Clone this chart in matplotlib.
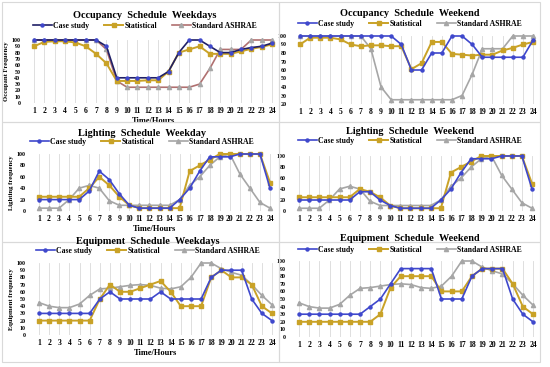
import numpy as np
import matplotlib
matplotlib.use('Agg')
import matplotlib.pyplot as plt
from matplotlib.lines import Line2D
from matplotlib.patches import Rectangle

hours = list(range(1, 25))

# Occupancy weekdays
occ_wd_case = [100, 100, 100, 100, 100, 100, 100, 90, 40, 40, 40, 40, 40, 50, 80, 100, 100, 90, 80, 80, 85, 88, 90, 95]
occ_wd_stat = [90, 97, 98, 98, 96, 90, 78, 63, 35, 35, 35, 36, 36, 50, 80, 85, 90, 78, 78, 78, 82, 86, 89, 93]
occ_wd_ashrae = [100, 100, 100, 100, 100, 100, 100, 85, 35, 25, 25, 25, 25, 25, 25, 25, 30, 55, 85, 85, 85, 100, 100, 100]

# Occupancy weekend
occ_we_case = [100, 100, 100, 100, 100, 100, 100, 100, 100, 100, 90, 60, 60, 80, 80, 100, 100, 90, 75, 75, 75, 75, 75, 95]
occ_we_stat = [90, 98, 98, 98, 96, 90, 88, 89, 89, 88, 88, 61, 68, 93, 93, 79, 78, 77, 78, 78, 83, 86, 90, 93]
occ_we_ashrae = [100, 100, 100, 100, 100, 100, 100, 85, 40, 25, 25, 25, 25, 25, 25, 25, 30, 55, 85, 85, 85, 100, 100, 100]

# Lighting weekday
lit_wd_case = [20, 20, 20, 20, 20, 35, 70, 55, 30, 10, 5, 5, 5, 5, 20, 40, 70, 95, 95, 95, 100, 100, 100, 40]
lit_wd_stat = [25, 25, 25, 25, 25, 40, 60, 45, 25, 10, 5, 5, 5, 5, 5, 70, 80, 90, 100, 100, 100, 100, 100, 50]
lit_wd_ashrae = [5, 5, 5, 20, 40, 45, 40, 18, 10, 10, 10, 10, 10, 10, 20, 45, 60, 80, 95, 100, 65, 40, 15, 5]

# Lighting weekend
lit_we_case = [20, 20, 20, 20, 20, 20, 35, 35, 20, 10, 5, 5, 5, 5, 20, 40, 70, 95, 95, 95, 100, 100, 100, 40]
lit_we_stat = [25, 25, 25, 25, 25, 25, 40, 35, 25, 10, 5, 5, 5, 5, 5, 70, 80, 90, 100, 100, 100, 100, 100, 50]
lit_we_ashrae = [5, 5, 5, 20, 40, 45, 40, 18, 10, 10, 10, 10, 10, 10, 20, 45, 60, 80, 95, 100, 65, 40, 15, 5]

# Equipment weekdays
eq_wd_case = [30, 30, 30, 30, 30, 30, 50, 60, 50, 50, 50, 50, 60, 50, 50, 50, 50, 80, 90, 90, 90, 50, 30, 20]
eq_wd_stat = [20, 20, 20, 20, 20, 20, 50, 70, 60, 60, 65, 70, 75, 60, 40, 40, 40, 80, 90, 80, 80, 70, 40, 30]
eq_wd_ashrae = [45, 40, 38, 38, 43, 55, 64, 65, 67, 69, 70, 69, 65, 64, 67, 80, 100, 100, 92, 87, 83, 70, 55, 42]

# Equipment weekend
eq_we_case = [30, 30, 30, 30, 30, 30, 30, 40, 50, 70, 90, 90, 90, 90, 50, 50, 50, 80, 90, 90, 90, 50, 30, 20]
eq_we_stat = [20, 20, 20, 20, 20, 20, 20, 20, 30, 65, 80, 80, 80, 80, 60, 60, 60, 80, 90, 90, 90, 70, 40, 30]
eq_we_ashrae = [45, 40, 38, 38, 43, 55, 64, 65, 67, 69, 70, 69, 65, 64, 67, 80, 100, 100, 92, 87, 83, 70, 55, 42]

W, H = 550, 367
SERIF = 'Liberation Serif'
C_CASE = '#3f48cc'
C_STAT = '#c9a227'
C_ASH = '#a6a6a6'

fig = plt.figure(figsize=(W / 100, H / 100), dpi=100)
fig.patch.set_facecolor('white')

# panel frames
for (x0, y0, x1, y1) in [(2, 2, 279, 122), (279, 2, 540, 122), (2, 122, 279, 242),
                         (279, 122, 540, 242), (2, 242, 279, 362), (279, 242, 540, 362)]:
    fig.patches.append(Rectangle((x0 / W, 1 - y1 / H), (x1 - x0) / W, (y1 - y0) / H,
                                 transform=fig.transFigure, fill=False,
                                 edgecolor='#d9d9d9', lw=0.8))


def panel(x1, x24, ytop, ybot, ymin, ymax, ystep, case, stat, ash, title, ty, ly, cx,
          ylabel=None, xlabel=True, case_line=C_CASE, ash_line=C_ASH):
    dx = (x24 - x1) / 23
    left = (x1 - dx / 2) / W
    ax = fig.add_axes([left, 1 - ybot / H, 24 * dx / W, (ybot - ytop) / H])
    ax.plot(hours, ash, color=ash_line, lw=1.2, marker='^', ms=3, mfc=C_ASH, mec=C_ASH,
            clip_on=False, zorder=3)
    ax.plot(hours, stat, color=C_STAT, lw=1.4, marker='s', ms=3.2, mfc=C_STAT, mec=C_STAT,
            clip_on=False, zorder=4)
    ax.plot(hours, case, color=case_line, lw=1.2, marker='o', ms=2.2, mfc=C_CASE, mec=C_CASE,
            clip_on=False, zorder=5)
    ax.set_xlim(0.5, 24.5)
    ax.set_ylim(ymin, ymax)
    ax.set_xticks(hours)
    ax.set_xticklabels([str(h) for h in hours], fontfamily=SERIF, fontweight='bold', fontsize=5.5)
    ax.set_yticks(np.arange(ymin, ymax + 1, ystep))
    ax.set_yticklabels([str(v) for v in np.arange(ymin, ymax + 1, ystep)],
                       fontfamily=SERIF, fontweight='bold', fontsize=4.3)
    ax.tick_params(length=0, pad=3)
    ax.tick_params(axis='y', pad=6)
    for s in ax.spines.values():
        s.set_visible(False)
    ax.grid(axis='x', color='#d9d9d9', lw=0.6)
    ax.set_axisbelow(True)
    if xlabel:
        ax.set_xlabel('Time/Hours', fontfamily=SERIF, fontweight='bold', fontsize=6, labelpad=1)
    if ylabel:
        ax.set_ylabel(ylabel, fontfamily=SERIF, fontweight='bold', fontsize=4.8, labelpad=2)
    fig.text(cx / W, 1 - ty / H, title, ha='center', va='center', fontfamily=SERIF,
             fontweight='bold', fontsize=7.4)
    handles = [
        Line2D([], [], color=case_line, lw=1.2, marker='o', ms=2.2, mfc=C_CASE, mec=C_CASE),
        Line2D([], [], color=C_STAT, lw=1.4, marker='s', ms=3.2, mfc=C_STAT, mec=C_STAT),
        Line2D([], [], color=ash_line, lw=1.2, marker='^', ms=3, mfc=C_ASH, mec=C_ASH),
    ]
    fig.legend(handles, ['Case study', 'Statistical', 'Standard ASHRAE'], loc='center',
               bbox_to_anchor=(cx / W, 1 - ly / H), ncol=3, frameon=False,
               prop={'family': SERIF, 'weight': 'bold', 'size': 5.6},
               handlelength=2.4, handletextpad=0.2, columnspacing=1.9,
               borderpad=0, borderaxespad=0)
    return ax


panel(34, 272, 40, 103, 0, 100, 10, occ_wd_case, occ_wd_stat, occ_wd_ashrae,
      'Occupancy  Schedule  Weekdays', 16, 26, 145, ylabel='Occupant Frequency',
      case_line='#1f1f66', ash_line='#b07070')
panel(300, 533, 36, 104, 20, 100, 10, occ_we_case, occ_we_stat, occ_we_ashrae,
      'Occupancy  Schedule  Weekend', 14, 24, 410, xlabel=False)
panel(39, 270, 154, 211, 0, 100, 20, lit_wd_case, lit_wd_stat, lit_wd_ashrae,
      'Lighting  Schedule  Weekday', 133, 142, 142, ylabel='Lighting frequency')
panel(299, 532, 156, 211, 0, 100, 20, lit_we_case, lit_we_stat, lit_we_ashrae,
      'Lighting  Schedule  Weekend', 132, 141, 410, xlabel=False)
panel(39, 272, 263, 335, 0, 100, 10, eq_wd_case, eq_wd_stat, eq_wd_ashrae,
      'Equipment  Schedule  Weekdays', 241, 251, 148, ylabel='Equipment frequency')
panel(299, 533, 261, 337, 0, 100, 10, eq_we_case, eq_we_stat, eq_we_ashrae,
      'Equipment  Schedule  Weekend', 239, 250, 410, xlabel=False)

fig.savefig('out.png', dpi=100, facecolor='white')
